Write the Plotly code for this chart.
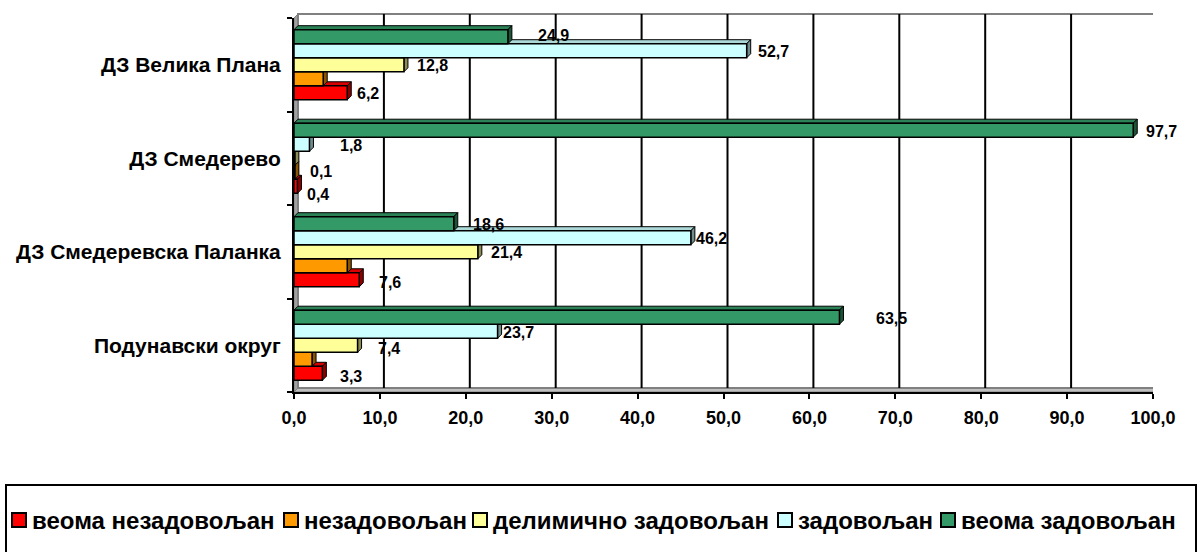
import plotly.graph_objects as go

# Satisfaction survey, share of respondents (%) per health centre
categories = ["Подунавски округ", "ДЗ Смедеревска Паланка", "ДЗ Смедерево", "ДЗ Велика Плана"]
series_names = ["веома незадовољан", "незадовољан", "делимично задовољан", "задовољан", "веома задовољан"]
very_dissatisfied = [3.3, 7.6, 0.4, 6.2]
dissatisfied = [2.1, 6.2, 0.1, 3.4]
partly_satisfied = [7.4, 21.4, 0.1, 12.8]
satisfied = [23.7, 46.2, 1.8, 52.7]
very_satisfied = [63.5, 18.6, 97.7, 24.9]
labelled = [True, False, True, True, True]
x_ticks = [0, 10, 20, 30, 40, 50, 60, 70, 80, 90, 100]

series_values = [very_dissatisfied, dissatisfied, partly_satisfied, satisfied, very_satisfied]
front_colors = ["#FF0000", "#FF9900", "#FFFF99", "#CCFFFF", "#339966"]

# hand-placed label nudges in pixels: (series index, category index) -> (dx, dy)
label_nudge = {
    (4, 3): (17, 2), (3, 3): (-2, 0), (0, 3): (-3, 0),
    (3, 2): (18, 0), (2, 2): (2, -12), (0, 2): (-3, -7),
    (4, 1): (6, 0), (3, 1): (-8, 0), (0, 1): (7, -2),
    (4, 0): (24, 0), (3, 0): (-8, 0), (2, 0): (7, -2), (0, 0): (5, -2),
}


def shade(hex_color, k):
    r, g, b = (int(hex_color[i:i + 2], 16) for i in (1, 3, 5))
    return "#{:02X}{:02X}{:02X}".format(int(r * k), int(g * k), int(b * k))


W, H = 1201, 552
M_L, M_R, M_T, M_B = 294, 48, 18, 160
plot_w = W - M_L - M_R
plot_h = H - M_T - M_B
x_max = 100.0
depth_px = 4
dx = depth_px * x_max / plot_w            # depth in x data units
dy_cat = depth_px * len(categories) / plot_h  # depth in category units
dy_paper = depth_px / plot_h               # depth in paper units

n = len(series_values)
slot = 0.15
group = slot * n

font_family = "Liberation Sans, Arial, sans-serif"


def px_x(p):
    return (p - M_L) / plot_w


def px_y(p):
    return (H - M_B - p) / plot_h


fig = go.Figure()
shapes = []
annotations = []

# back wall, floor and left wall of the 3D box
shapes.append(dict(type="path", xref="x", yref="paper", layer="below",
                   path=f"M 0,0 L {x_max},0 L {x_max + dx},{dy_paper} L {dx},{dy_paper} Z",
                   fillcolor="#C0C0C0", line=dict(color="#808080", width=1)))
shapes.append(dict(type="path", xref="x", yref="paper", layer="below",
                   path=f"M 0,0 L 0,1 L {dx},{1 + dy_paper} L {dx},{dy_paper} Z",
                   fillcolor="#A0A0A0", line=dict(color="#808080", width=1)))
shapes.append(dict(type="rect", xref="x", yref="paper", layer="below",
                   x0=dx, x1=x_max + dx, y0=dy_paper, y1=1 + dy_paper,
                   fillcolor="rgba(0,0,0,0)", line=dict(color="#808080", width=2)))
# gridlines on the back wall
for t in x_ticks[1:-1]:
    shapes.append(dict(type="line", xref="x", yref="paper", layer="below",
                       x0=t + dx, x1=t + dx, y0=dy_paper, y1=1 + dy_paper,
                       line=dict(color="#000000", width=2)))

for i, (name, vals, col) in enumerate(zip(series_names, series_values, front_colors)):
    off = -group / 2 + i * slot
    fig.add_trace(go.Bar(
        name=name, y=categories, x=vals, orientation="h",
        offset=off, width=slot,
        marker=dict(color=col, line=dict(color="#000000", width=1.5)),
        hoverinfo="x+name", showlegend=False,
    ))
    top_col = shade(col, 0.85)
    side_col = shade(col, 0.55)
    for c, v in enumerate(vals):
        yb = c + off
        yt = yb + slot
        # top face
        shapes.append(dict(type="path", xref="x", yref="y", layer="below",
                           path=f"M 0,{yt} L {v},{yt} L {v + dx},{yt + dy_cat} L {dx},{yt + dy_cat} Z",
                           fillcolor=top_col, line=dict(color="#000000", width=1)))
        # side face
        shapes.append(dict(type="path", xref="x", yref="y", layer="below",
                           path=f"M {v},{yb} L {v},{yt} L {v + dx},{yt + dy_cat} L {v + dx},{yb + dy_cat} Z",
                           fillcolor=side_col, line=dict(color="#000000", width=1)))
        if labelled[i]:
            ndx, ndy = label_nudge.get((i, c), (0, 0))
            annotations.append(dict(
                x=v, y=c + off + slot / 2, xref="x", yref="y",
                text=f"{v:.1f}".replace(".", ","), showarrow=False,
                xanchor="left", yanchor="middle", xshift=11 + ndx, yshift=-1 + ndy,
                font=dict(family=font_family, size=16, color="#000000", weight="bold"),
            ))

# legend: frame, colour keys and entry texts
legend_left = [12, 284, 473, 778, 941]
legend_mid_y = 520
key = 14
shapes.append(dict(type="rect", xref="paper", yref="paper", layer="above",
                   x0=px_x(6), x1=px_x(1196), y0=px_y(H + 10), y1=px_y(485),
                   line=dict(color="#000000", width=2), fillcolor="rgba(0,0,0,0)"))
for name, col, lx in zip(series_names, front_colors, legend_left):
    shapes.append(dict(type="rect", xref="paper", yref="paper", layer="above",
                       x0=px_x(lx), x1=px_x(lx + key),
                       y0=px_y(legend_mid_y + key / 2), y1=px_y(legend_mid_y - key / 2),
                       fillcolor=col, line=dict(color="#000000", width=2)))
    annotations.append(dict(
        x=px_x(lx + key + 4), y=px_y(legend_mid_y), xref="paper", yref="paper",
        text=name, showarrow=False, xanchor="left", yanchor="middle",
        font=dict(family=font_family, size=24, color="#000000", weight="bold"),
    ))

fig.update_layout(
    width=W, height=H,
    margin=dict(l=M_L, r=M_R, t=M_T, b=M_B, autoexpand=False),
    paper_bgcolor="#FFFFFF", plot_bgcolor="rgba(0,0,0,0)",
    separators=",.",
    barmode="group",
    font=dict(family=font_family, color="#000000"),
    shapes=shapes, annotations=annotations,
    showlegend=False,
    xaxis=dict(range=[0, x_max], tickvals=x_ticks, tickformat=".1f",
               showgrid=False, zeroline=False,
               showline=True, linecolor="#000000", linewidth=2,
               ticks="outside", ticklen=5, tickwidth=2, tickcolor="#000000",
               ticklabelstandoff=3,
               tickfont=dict(family=font_family, size=18, color="#000000", weight="bold")),
    yaxis=dict(type="category", categoryorder="array", categoryarray=categories,
               range=[-0.5, len(categories) - 0.5],
               showgrid=False, zeroline=False,
               showline=True, linecolor="#000000", linewidth=2,
               ticks="outside", ticklen=5, tickwidth=2, tickcolor="#000000",
               tickson="boundaries", ticklabelstandoff=7,
               tickfont=dict(family=font_family, size=21, color="#000000", weight="bold")),
)

fig.write_html("out.html")
